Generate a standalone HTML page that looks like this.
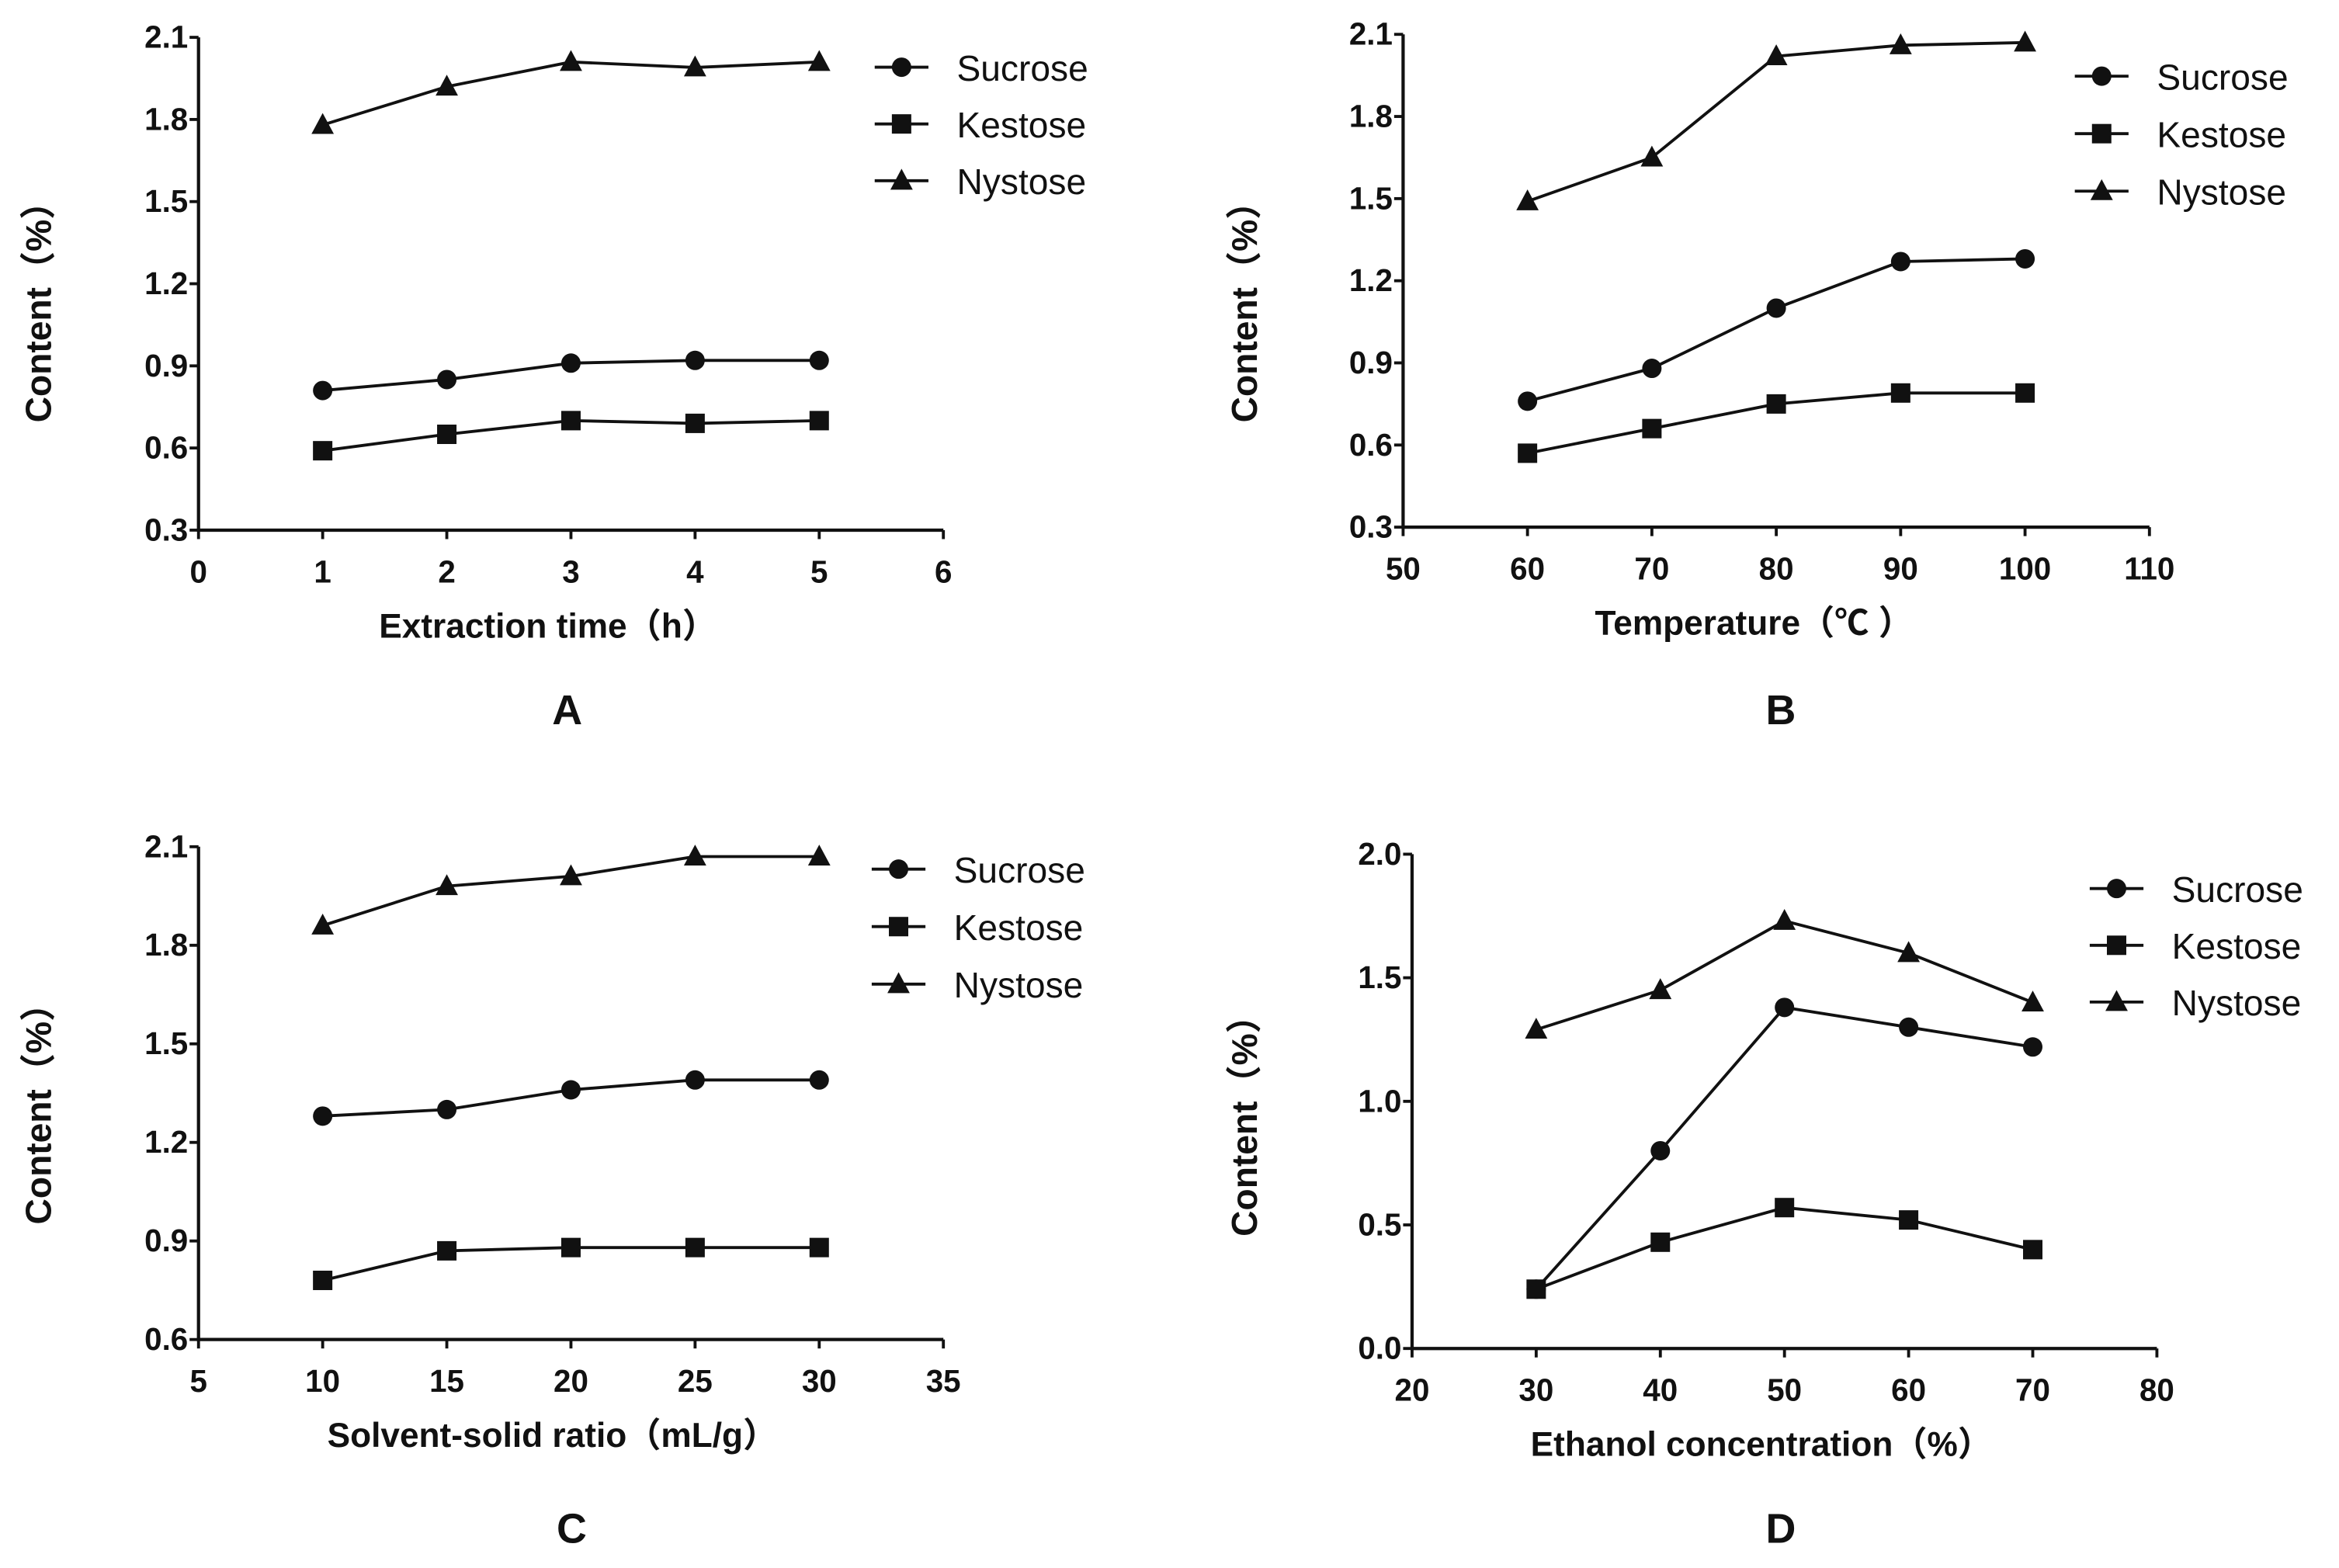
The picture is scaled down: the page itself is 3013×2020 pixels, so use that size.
<!DOCTYPE html>
<html><head><meta charset="utf-8"><style>html,body{margin:0;padding:0;background:#fff}svg{display:block}text{font-family:"Liberation Sans","Noto Sans CJK SC",sans-serif;fill:#111}</style></head>
<body>
<svg id="fig" width="3013" height="2020" viewBox="0 0 1567 1050" preserveAspectRatio="none" xmlns="http://www.w3.org/2000/svg"></svg>
<script>
const seriesNames = ["Sucrose","Kestose","Nystose"];
const xA = [1,2,3,4,5];
const sucA = [0.81,0.85,0.91,0.92,0.92];
const kesA = [0.59,0.65,0.70,0.69,0.70];
const nysA = [1.78,1.92,2.01,1.99,2.01];
const xTicksA = [0,1,2,3,4,5,6];
const yTicksA = ["0.3","0.6","0.9","1.2","1.5","1.8","2.1"];
const xB = [60,70,80,90,100];
const sucB = [0.76,0.88,1.10,1.27,1.28];
const kesB = [0.57,0.66,0.75,0.79,0.79];
const nysB = [1.49,1.65,2.02,2.06,2.07];
const xTicksB = [50,60,70,80,90,100,110];
const yTicksB = ["0.3","0.6","0.9","1.2","1.5","1.8","2.1"];
const xC = [10,15,20,25,30];
const sucC = [1.28,1.30,1.36,1.39,1.39];
const kesC = [0.78,0.87,0.88,0.88,0.88];
const nysC = [1.86,1.98,2.01,2.07,2.07];
const xTicksC = [5,10,15,20,25,30,35];
const yTicksC = ["0.6","0.9","1.2","1.5","1.8","2.1"];
const xD = [30,40,50,60,70];
const sucD = [0.24,0.80,1.38,1.30,1.22];
const kesD = [0.24,0.43,0.57,0.52,0.40];
const nysD = [1.29,1.45,1.73,1.60,1.40];
const xTicksD = [20,30,40,50,60,70,80];
const yTicksD = ["0.0","0.5","1.0","1.5","2.0"];

const NS="http://www.w3.org/2000/svg";
const svg=document.getElementById('fig');
function mk(tag,attrs,parent){const e=document.createElementNS(NS,tag);for(const k in attrs)e.setAttribute(k,attrs[k]);(parent||svg).appendChild(e);return e;}
function txt(s,attrs,parent){const e=mk('text',attrs,parent);e.textContent=s;return e;}
function marker(g,kind,cx,cy){
  let m;
  if(kind===0){m=mk('circle',{cx:cx,cy:cy,r:6.5,fill:'#111'},g);}
  else if(kind===1){m=mk('rect',{x:cx-6.5,y:cy-6.5,width:13,height:13,fill:'#111'},g);}
  else{m=mk('polygon',{points:(cx)+','+(cy-8)+' '+(cx-7.5)+','+(cy+6)+' '+(cx+7.5)+','+(cy+6),fill:'#111'},g);}
  return m;
}
function panel(p){
  const g=mk('g',{});
  
  
  const X=v=>p.x0+(v-p.xmin)/(p.xmax-p.xmin)*(p.x1-p.x0);
  const Y=v=>p.y0-(v-p.ymin)/(p.ymax-p.ymin)*(p.y0-p.y1);
  const ax=mk('path',{d:`M${p.x0},${p.y1} L${p.x0},${p.y0} L${p.x1},${p.y0}`,stroke:'#111','stroke-width':2.2,fill:'none'},g);
  
  
  p.xt.forEach(v=>{
    mk('line',{x1:X(v),x2:X(v),y1:p.y0,y2:p.y0+6,stroke:'#111','stroke-width':2},g);
    const t=txt(String(v),{x:X(v),y:p.y0+35,'text-anchor':'middle','font-size':21,'font-weight':'bold'},g);
    
    
  });
  p.yt.forEach(s=>{
    const v=parseFloat(s);
    mk('line',{x1:p.x0-6,x2:p.x0,y1:Y(v),y2:Y(v),stroke:'#111','stroke-width':2},g);
    const t=txt(s,{x:p.x0-7,y:Y(v)+7,'text-anchor':'end','font-size':21,'font-weight':'bold'},g);
    
    
  });
  p.series.forEach((ys,k)=>{
    const sg=mk('g',{},g);
    
    
    mk('polyline',{points:p.xs.map((x,i)=>X(x)+','+Y(ys[i])).join(' '),fill:'none',stroke:'#111','stroke-width':2},sg);
    p.xs.forEach((x,i)=>{const m=marker(sg,k,X(x),Y(ys[i]));
      
      });
  });
  const lg=mk('g',{},g);
  
  
  seriesNames.forEach((n,k)=>{
    const y=p.ly+k*p.ldy;
    mk('line',{x1:p.lx,x2:p.lx+36,y1:y,y2:y,stroke:'#111','stroke-width':2},lg);
    marker(lg,k,p.lx+18,y);
    const t=txt(n,{x:p.lx+55,y:y+9,'font-size':24},lg);
    
    
  });
  const xt=txt(p.xlabel,{x:p.xlc,y:p.xly,'text-anchor':'middle','font-size':23,'font-weight':'bold'},g);
  
  
  const yt=txt('Content（%）',{x:0,y:0,'text-anchor':'middle','font-size':24,'font-weight':'bold',transform:`translate(${p.ylx},${p.ylc}) rotate(-90)`},g);
  
  
  const lt=txt(p.letter,{x:p.lc,y:p.lyy,'text-anchor':'middle','font-size':28,'font-weight':'bold'},g);
  
  
}
panel({letter:'A',x0:133,x1:632,xmin:0,xmax:6,y0:355,y1:25,ymin:0.3,ymax:2.1,xs:xA,series:[sucA,kesA,nysA],xt:xTicksA,yt:yTicksA,lx:586,ly:45,ldy:38,xlabel:'Extraction time（h）',xlc:367,xly:427,ylx:34,ylc:203,lc:380,lyy:485});
panel({letter:'B',x0:940,x1:1440,xmin:50,xmax:110,y0:353,y1:23,ymin:0.3,ymax:2.1,xs:xB,series:[sucB,kesB,nysB],xt:xTicksB,yt:yTicksB,lx:1390,ly:51,ldy:38.5,xlabel:'Temperature（℃ ）',xlc:1175,xly:425,ylx:842,ylc:203,lc:1193,lyy:485});
panel({letter:'C',x0:133,x1:632,xmin:5,xmax:35,y0:897,y1:567,ymin:0.6,ymax:2.1,xs:xC,series:[sucC,kesC,nysC],xt:xTicksC,yt:yTicksC,lx:584,ly:582,ldy:38.5,xlabel:'Solvent-solid ratio（mL/g）',xlc:370,xly:969,ylx:34,ylc:740,lc:383,lyy:1033});
panel({letter:'D',x0:946,x1:1445,xmin:20,xmax:80,y0:903,y1:572,ymin:0,ymax:2.0,xs:xD,series:[sucD,kesD,nysD],xt:xTicksD,yt:yTicksD,lx:1400,ly:595,ldy:38,xlabel:'Ethanol concentration（%）',xlc:1180,xly:975,ylx:842,ylc:748,lc:1193,lyy:1033});
</script>
</body></html>
